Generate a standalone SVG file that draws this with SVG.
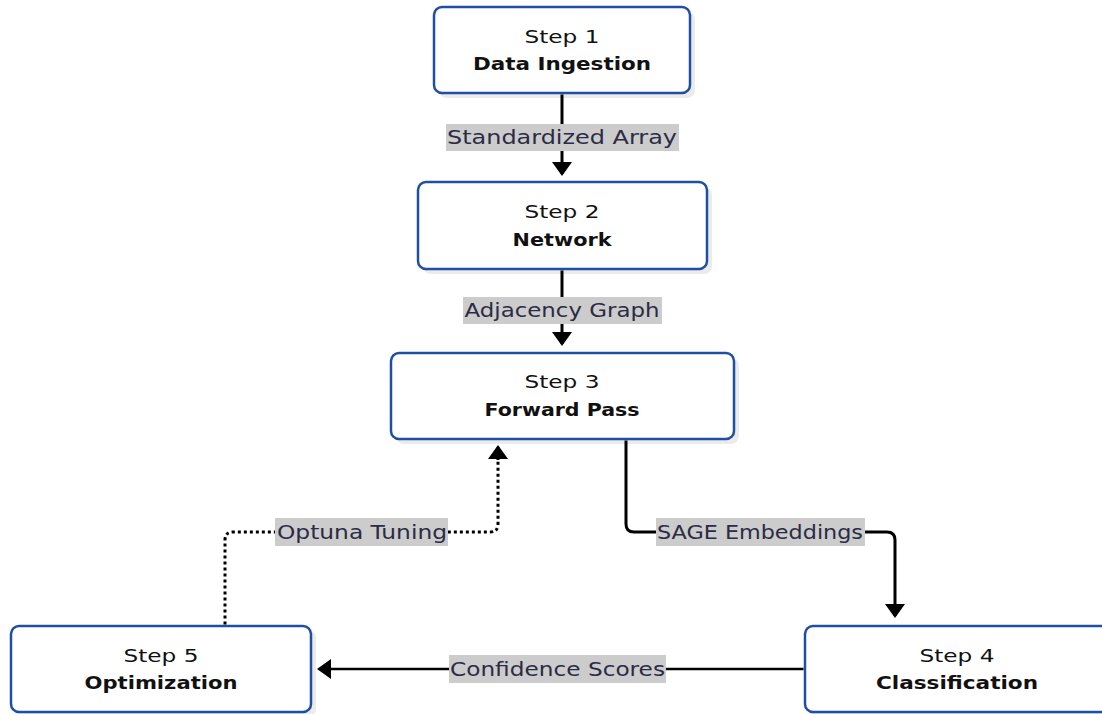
<svg xmlns="http://www.w3.org/2000/svg" width="1102" height="714" viewBox="0 0 1102 714">
<style>
.shadow{fill:#ebebeb}
.box{fill:#ffffff;stroke:#1f4fa3;stroke-width:2.5}
.t1{font-family:"DejaVu Sans","Liberation Sans",sans-serif;font-size:18px;fill:#111111;text-anchor:middle}
.t2{font-family:"DejaVu Sans","Liberation Sans",sans-serif;font-size:18px;font-weight:bold;fill:#111111;text-anchor:middle}
.lbg{fill:#cccccc}
.lt{font-family:"DejaVu Sans","Liberation Sans",sans-serif;font-size:19px;fill:#2b2b45;text-anchor:middle}
.edge{fill:none;stroke:#000000;stroke-width:3}
.dot{fill:none;stroke:#000000;stroke-width:3;stroke-dasharray:3 3}
</style>
<defs>
<marker id="arr" markerUnits="userSpaceOnUse" markerWidth="22" markerHeight="22" viewBox="0 0 14 22" refX="12" refY="11" orient="auto">
<path d="M0,1 L14,11 L0,21 z" fill="#000000"/>
</marker>
</defs>
<g id="step1">
<rect class="shadow" x="439" y="12" width="256" height="86" rx="8"/>
<rect class="box" x="434" y="7" width="256" height="86" rx="8"/>
<text class="t1" x="562" y="43" textLength="75" lengthAdjust="spacingAndGlyphs">Step 1</text>
<text class="t2" x="562" y="70" textLength="178" lengthAdjust="spacingAndGlyphs">Data Ingestion</text>
</g>
<g id="step2">
<rect class="shadow" x="423" y="187" width="289" height="87" rx="8"/>
<rect class="box" x="418" y="182" width="289" height="87" rx="8"/>
<text class="t1" x="562" y="218" textLength="75" lengthAdjust="spacingAndGlyphs">Step 2</text>
<text class="t2" x="562" y="246" textLength="99" lengthAdjust="spacingAndGlyphs">Network</text>
</g>
<g id="step3">
<rect class="shadow" x="396" y="358" width="343" height="86" rx="8"/>
<rect class="box" x="391" y="353" width="343" height="86" rx="8"/>
<text class="t1" x="562" y="388" textLength="75" lengthAdjust="spacingAndGlyphs">Step 3</text>
<text class="t2" x="562" y="416" textLength="155" lengthAdjust="spacingAndGlyphs">Forward Pass</text>
</g>
<g id="step4">
<rect class="shadow" x="809" y="630" width="306" height="87" rx="8"/>
<rect class="box" x="805" y="626" width="306" height="86" rx="8"/>
<text class="t1" x="957" y="662" textLength="75" lengthAdjust="spacingAndGlyphs">Step 4</text>
<text class="t2" x="957" y="689" textLength="162" lengthAdjust="spacingAndGlyphs">Classification</text>
</g>
<g id="step5">
<rect class="shadow" x="16" y="630" width="300" height="87" rx="8"/>
<rect class="box" x="11" y="626" width="300" height="86" rx="8"/>
<text class="t1" x="161" y="662" textLength="75" lengthAdjust="spacingAndGlyphs">Step 5</text>
<text class="t2" x="161" y="689" textLength="153" lengthAdjust="spacingAndGlyphs">Optimization</text>
</g>
<g id="connectors">
<path class="edge" d="M562,94.5 V174" marker-end="url(#arr)"/>
<path class="edge" d="M562,270.5 V344" marker-end="url(#arr)"/>
<path class="edge" d="M626,440.5 V524 Q626,532 634,532 H887 Q895,532 895,540 V616" marker-end="url(#arr)"/>
<path class="edge" style="stroke-width:2.5" d="M803.5,669 H319" marker-end="url(#arr)"/>
<path class="dot" d="M225,624.5 V540 Q225,532 233,532 H490 Q498,532 498,524 V458"/>
<path class="edge" d="M498,460 V447" marker-end="url(#arr)"/>
<g id="label-standardized">
<rect class="lbg" x="446" y="124" width="233" height="27"/>
<text class="lt" x="562" y="144" textLength="230" lengthAdjust="spacingAndGlyphs">Standardized Array</text>
</g>
<g id="label-adjacency">
<rect class="lbg" x="463" y="297" width="199" height="27"/>
<text class="lt" x="562" y="317" textLength="195" lengthAdjust="spacingAndGlyphs">Adjacency Graph</text>
</g>
<g id="label-sage">
<rect class="lbg" x="656" y="518" width="209" height="28"/>
<text class="lt" x="760" y="539" textLength="206" lengthAdjust="spacingAndGlyphs">SAGE Embeddings</text>
</g>
<g id="label-optuna">
<rect class="lbg" x="275" y="518" width="173" height="28"/>
<text class="lt" x="362" y="539" textLength="170" lengthAdjust="spacingAndGlyphs">Optuna Tuning</text>
</g>
<g id="label-confidence">
<rect class="lbg" x="449" y="655" width="217" height="28"/>
<text class="lt" x="557.5" y="676" textLength="215" lengthAdjust="spacingAndGlyphs">Confidence Scores</text>
</g>
</g>
</svg>
